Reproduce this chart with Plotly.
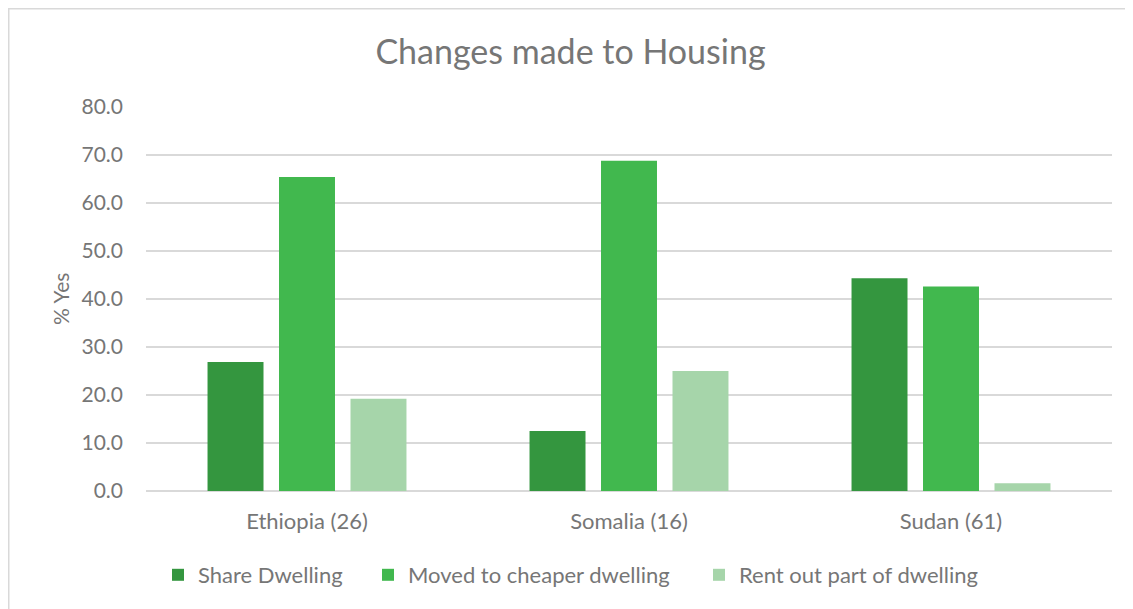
import plotly.graph_objects as go

categories = ["Ethiopia (26)", "Somalia (16)", "Sudan (61)"]
share_dwelling = [26.9, 12.5, 44.3]
moved_cheaper = [65.4, 68.8, 42.6]
rent_out = [19.2, 25.0, 1.6]
series_names = ["Share Dwelling", "Moved to cheaper dwelling", "Rent out part of dwelling"]
colors = ["#34963F", "#41B84E", "#A6D5AA"]

FONT = "Lato"
TXT = "#767676"

# page body has an 8px margin -> figure coords = reference coords - 8
W, H = 1125, 601
ml, mr, mt, mb = 138, 21, 99, 118
pw, ph = W - ml - mr, H - mt - mb

def px(x):
    return (x - ml) / pw

def py(y):
    return (H - mb - y) / ph

legend_text_x = [190, 400, 731]  # text start positions (fig coords)
legend_ids = ["legend", "legend2", "legend3"]

fig = go.Figure()
for name, vals, c, lid in zip(series_names, [share_dwelling, moved_cheaper, rent_out], colors, legend_ids):
    fig.add_trace(go.Bar(x=categories, y=vals, name=name, legend=lid,
                         marker=dict(color=c, line=dict(width=0))))

legend_common = dict(orientation="h", yanchor="middle", xanchor="left",
                     font=dict(family=FONT, size=22, color=TXT), itemwidth=30,
                     bgcolor="rgba(0,0,0,0)")
layout_legends = {}
for lid, tx in zip(legend_ids, legend_text_x):
    layout_legends[lid] = dict(legend_common, x=px(tx - 40), y=py(567))

fig.update_layout(
    width=W, height=H,
    margin=dict(l=ml, r=mr, t=mt, b=mb),
    paper_bgcolor="white", plot_bgcolor="white",
    font=dict(family=FONT, color=TXT, size=20),
    title=dict(text="Changes made to Housing", x=0.5, xanchor="center", y=1 - 44 / H, yanchor="middle",
               font=dict(family=FONT, size=34, color=TXT)),
    barmode="group", bargap=0.334, bargroupgap=0.217,
    showlegend=True,
    xaxis=dict(showgrid=False, showline=False, ticks="", ticklabelstandoff=15,
               tickfont=dict(family=FONT, size=22, color=TXT)),
    yaxis=dict(range=[0, 80], dtick=10, tickformat=".1f", showgrid=True, gridcolor="#D9D9D9", gridwidth=1.5,
               zeroline=True, zerolinecolor="#D9D9D9", zerolinewidth=1.5, showline=False, ticks="",
               ticklabelstandoff=22,
               tickfont=dict(family=FONT, size=21, color=TXT)),
    **layout_legends,
)

fig.add_annotation(text="% Yes", xref="paper", yref="paper", x=px(52), y=py(291),
                   xanchor="center", yanchor="middle", textangle=-90, showarrow=False,
                   font=dict(family=FONT, size=21, color=TXT))

# chart border (top/left visible; right/bottom beyond view)
fig.add_shape(type="rect", xref="paper", yref="paper", x0=px(0.75), x1=px(W + 20), y0=py(H + 20), y1=py(0.75),
              line=dict(color="#D9D9D9", width=1.5), fillcolor="rgba(0,0,0,0)", layer="below")

fig.write_html("out.html")
